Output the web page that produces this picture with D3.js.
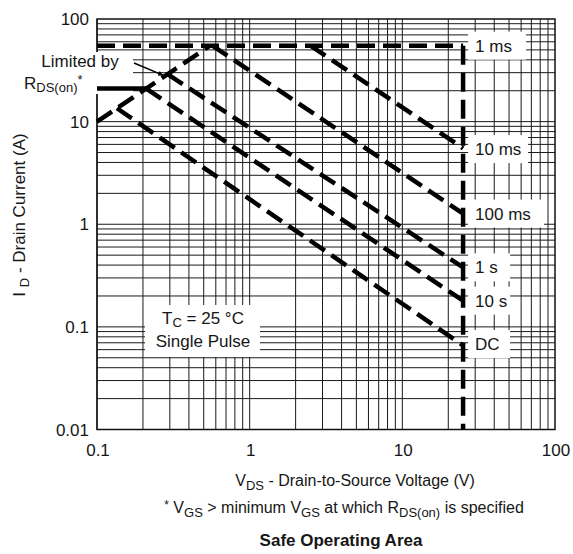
<!DOCTYPE html>
<html><head><meta charset="utf-8">
<script src="https://cdn.jsdelivr.net/npm/d3@7"></script>
<style>
body{margin:0;background:#fff;}
svg text{font-family:"Liberation Sans",Arial,Helvetica,sans-serif;fill:#161616;}
</style></head>
<body><svg id="c" width="573" height="554"></svg>
<script>
// ---- data ----
const xTicks = [0.1, 1, 10, 100];
const xTickLabels = ["0.1", "1", "10", "100"];
const yTicks = [0.01, 0.1, 1, 10, 100];
const yTickLabels = ["0.01", "0.1", "1", "10", "100"];

// dashed limit curves: V (volts) and I (amps)
const rdsV = [0.1, 0.55];   const rdsI = [10, 55];
const ms1V = [0.1, 25];     const ms1I = [55, 55];
const vmaxV = [25, 25];     const vmaxI = [55, 0.01];
const ms10V = [2.5, 25];    const ms10I = [55, 5.5];
const ms100V = [0.57, 25];  const ms100I = [55, 1.27];
const s1V = [0.29, 25];     const s1I = [29, 0.38];
const s10V = [0.21, 25];    const s10I = [21, 0.18];
const dcV = [0.135, 25];    const dcI = [13.5, 0.066];
// solid segment
const solidV = [0.1, 0.21]; const solidI = [21, 21];

const curveLabels = ["1 ms", "10 ms", "100 ms", "1 s", "10 s", "DC"];
const curveLabelI = [55, 5.4, 1.27, 0.38, 0.18, 0.068];

// ---- chart ----
const svg = d3.select("#c");
const x = d3.scaleLog().domain([0.1, 100]).range([97, 555]);
const y = d3.scaleLog().domain([0.01, 100]).range([429.5, 19]);

// grid
const xGrid = [];
for (let d = 0.1; d < 100; d *= 10) for (let k = 1; k <= 9; k++) xGrid.push(+(d * k).toPrecision(3));
const yGrid = [];
for (let d = 0.01; d < 100; d *= 10) for (let k = 1; k <= 9; k++) yGrid.push(+(d * k).toPrecision(3));

const g = svg.append("g");
g.selectAll("line.vg").data(xGrid).join("line")
  .attr("x1", d => x(d)).attr("x2", d => x(d)).attr("y1", y(0.01)).attr("y2", y(100))
  .attr("stroke", "#1a1a1a").attr("stroke-width", 1);
g.selectAll("line.hg").data(yGrid).join("line")
  .attr("y1", d => y(d)).attr("y2", d => y(d)).attr("x1", x(0.1)).attr("x2", x(100))
  .attr("stroke", "#1a1a1a").attr("stroke-width", 1);
g.append("rect").attr("x", x(0.1)).attr("y", y(100)).attr("width", x(100) - x(0.1)).attr("height", y(0.01) - y(100))
  .attr("fill", "none").attr("stroke", "#111").attr("stroke-width", 1.5);

// axes tick labels
const fs = 17;
svg.selectAll("text.xt").data(xTicks).join("text")
  .attr("x", d => x(d) + 1).attr("y", 456).attr("text-anchor", "middle").attr("font-size", fs)
  .text((d, i) => xTickLabels[i]);
svg.selectAll("text.yt").data(yTicks).join("text")
  .attr("x", 89).attr("y", d => y(d) + 6).attr("text-anchor", "end").attr("font-size", fs)
  .text((d, i) => yTickLabels[i]);

function box(x0, y0, w, h) {
  svg.append("rect").attr("x", x0).attr("y", y0).attr("width", w).attr("height", h).attr("fill", "#fff");
}
box(145, 305, 115, 52);
box(20, 52, 113, 42);

// curves
const line = d3.line().x(d => x(d[0])).y(d => y(d[1]));
const pairs = (V, I) => V.map((v, i) => [v, I[i]]);
const dashed = [[rdsV, rdsI], [ms1V, ms1I], [ms10V, ms10I], [ms100V, ms100I], [s1V, s1I], [s10V, s10I], [dcV, dcI]];
const cg = svg.append("g");
dashed.forEach(([V, I]) => {
  cg.append("path").attr("d", line(pairs(V, I))).attr("fill", "none")
    .attr("stroke", "#000").attr("stroke-width", 4.5).attr("stroke-dasharray", "18,8");
});
cg.append("path").attr("d", line(pairs(vmaxV, vmaxI))).attr("fill", "none")
  .attr("stroke", "#000").attr("stroke-width", 4.5).attr("stroke-dasharray", "19,8");
cg.append("path").attr("d", line(pairs(solidV, solidI))).attr("fill", "none")
  .attr("stroke", "#000").attr("stroke-width", 4.5);

// right labels with white boxes
const lw = [58, 60, 76, 42, 42, 42];
curveLabels.forEach((t, i) => {
  const cy = y(curveLabelI[i]);
  box(x(25) + 5, cy - 14, lw[i], 28);
  svg.append("text").attr("x", x(25) + 12).attr("y", cy + 6).attr("font-size", fs).text(t);
});

// TC text
const tc = svg.append("text").attr("x", 203).attr("y", 324).attr("text-anchor", "middle").attr("font-size", fs);
tc.append("tspan").text("T");
tc.append("tspan").attr("font-size", 13).attr("dy", 3).text("C");
tc.append("tspan").attr("dy", -3).text(" = 25 °C");
svg.append("text").attr("x", 203).attr("y", 347).attr("text-anchor", "middle").attr("font-size", fs).text("Single Pulse");

// Limited by
svg.append("text").attr("x", 80).attr("y", 67).attr("text-anchor", "middle").attr("font-size", fs).text("Limited by");
const rl = svg.append("text").attr("x", 24).attr("y", 89).attr("font-size", fs);
rl.append("tspan").text("R");
rl.append("tspan").attr("font-size", 13).attr("dy", 3).text("DS(on)");
rl.append("tspan").attr("dy", -8).attr("font-size", 13).text("*");

// arrow
svg.append("defs").append("marker").attr("id", "ah").attr("viewBox", "0 0 10 10")
  .attr("refX", 9).attr("refY", 5).attr("markerWidth", 7).attr("markerHeight", 5).attr("orient", "auto")
  .attr("markerUnits", "userSpaceOnUse")
  .append("path").attr("d", "M0,0 L10,5 L0,10 z").attr("fill", "#000");
svg.append("line").attr("x1", 134).attr("y1", 63).attr("x2", x(0.27)).attr("y2", y(29) + 1)
  .attr("stroke", "#000").attr("stroke-width", 1.5).attr("marker-end", "url(#ah)");

// y title
const yt = svg.append("text").attr("transform", "translate(25,215) rotate(-90)").attr("text-anchor", "middle").attr("font-size", fs);
yt.append("tspan").text("I ");
yt.append("tspan").attr("font-size", 13).attr("dy", 4).text("D");
yt.append("tspan").attr("dy", -4).text(" - Drain Current (A)");

// x title
const xt = svg.append("text").attr("x", 355).attr("y", 486).attr("text-anchor", "middle").attr("font-size", 16);
xt.append("tspan").text("V");
xt.append("tspan").attr("font-size", 13).attr("dy", 4).text("DS");
xt.append("tspan").attr("dy", -4).text(" -  Drain-to-Source Voltage (V)");

// footnote
const fn = svg.append("text").attr("x", 344).attr("y", 513).attr("text-anchor", "middle").attr("font-size", 16);
fn.append("tspan").attr("font-size", 12).attr("dy", -4).text("*");
fn.append("tspan").attr("dy", 4).text(" V");
fn.append("tspan").attr("font-size", 13).attr("dy", 4).text("GS");
fn.append("tspan").attr("dy", -4).text(" >  minimum V");
fn.append("tspan").attr("font-size", 13).attr("dy", 4).text("GS");
fn.append("tspan").attr("dy", -4).text(" at which R");
fn.append("tspan").attr("font-size", 13).attr("dy", 4).text("DS(on)");
fn.append("tspan").attr("dy", -4).text(" is specified");

// title
svg.append("text").attr("x", 341).attr("y", 546).attr("text-anchor", "middle").attr("font-size", 17)
  .attr("font-weight", "bold").text("Safe Operating Area");
</script></body></html>
